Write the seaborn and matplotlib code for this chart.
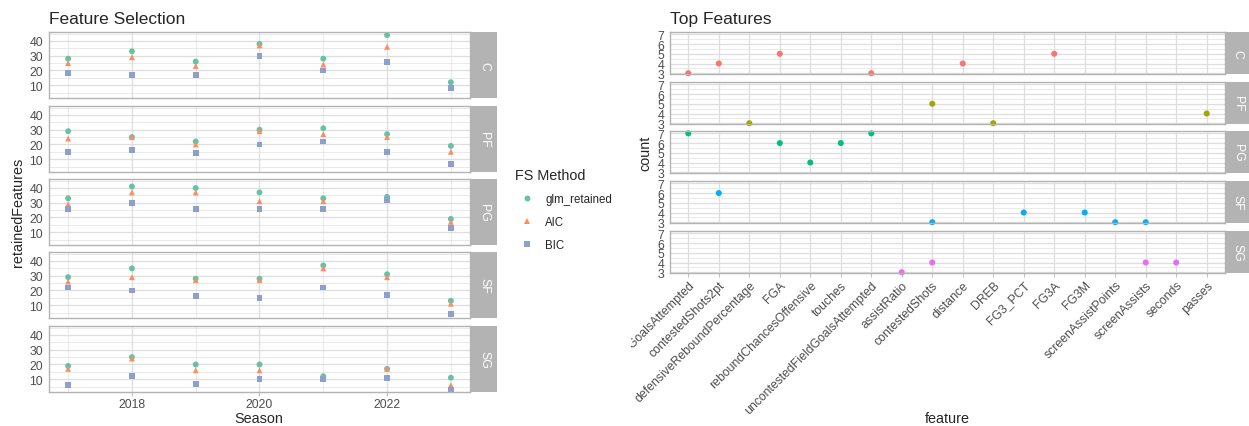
import matplotlib
matplotlib.use('Agg')

import seaborn as sns
import matplotlib.pyplot as plt
import pandas as pd
from matplotlib.transforms import Bbox, TransformedBbox

# ---- data ----
seasons = [2017, 2018, 2019, 2020, 2021, 2022, 2023]
positions = ['C', 'PF', 'PG', 'SF', 'SG']
methods = ['glm_retained', 'AIC', 'BIC']

glm_retained = {
    'C':  [28, 33, 26, 38, 28, 44, 12],
    'PF': [29, 25, 22, 30, 31, 27, 19],
    'PG': [33, 41, 40, 37, 33, 34, 19],
    'SF': [29, 35, 28, 28, 37, 31, 13],
    'SG': [19, 25, 20, 20, 12, 17, 11],
}
aic = {
    'C':  [25, 29, 23, 37, 24, 36, 8],
    'PF': [24, 25, 20, 29, 27, 25, 15],
    'PG': [29, 37, 37, 31, 31, 32, 17],
    'SF': [26, 29, 27, 27, 35, 29, 11],
    'SG': [17, 24, 16, 16, 11, 17, 6],
}
bic = {
    'C':  [18, 17, 17, 30, 20, 26, 8],
    'PF': [15, 16, 14, 20, 22, 15, 7],
    'PG': [26, 30, 26, 26, 26, 32, 13],
    'SF': [22, 20, 16, 15, 22, 17, 4],
    'SG': [6, 12, 7, 10, 10, 11, 3],
}

features = ['contestedFieldGoalsAttempted', 'contestedShots2pt', 'defensiveReboundPercentage',
            'FGA', 'reboundChancesOffensive', 'touches', 'uncontestedFieldGoalsAttempted',
            'assistRatio', 'contestedShots', 'distance', 'DREB', 'FG3_PCT', 'FG3A', 'FG3M',
            'screenAssistPoints', 'screenAssists', 'seconds', 'passes']
top_features = {
    'C':  ['contestedFieldGoalsAttempted', 'contestedShots2pt', 'FGA',
           'uncontestedFieldGoalsAttempted', 'distance', 'FG3A'],
    'PF': ['defensiveReboundPercentage', 'contestedShots', 'DREB', 'passes'],
    'PG': ['contestedFieldGoalsAttempted', 'FGA', 'reboundChancesOffensive', 'touches',
           'uncontestedFieldGoalsAttempted'],
    'SF': ['contestedShots2pt', 'contestedShots', 'FG3_PCT', 'FG3M',
           'screenAssistPoints', 'screenAssists'],
    'SG': ['assistRatio', 'contestedShots', 'screenAssists', 'seconds'],
}
top_counts = {
    'C':  [3, 4, 5, 3, 4, 5],
    'PF': [3, 5, 3, 4],
    'PG': [7, 6, 4, 6, 7],
    'SF': [6, 3, 4, 4, 3, 3],
    'SG': [3, 4, 4, 4],
}

# ---- long tables ----
rows = []
for m, src in zip(methods, [glm_retained, aic, bic]):
    for p in positions:
        for s, v in zip(seasons, src[p]):
            rows.append((p, s, m, v))
fs = pd.DataFrame(rows, columns=['position', 'Season', 'FS Method', 'retainedFeatures'])

rows = []
for p in positions:
    for f, c in zip(top_features[p], top_counts[p]):
        rows.append((p, f, c))
tf = pd.DataFrame(rows, columns=['position', 'feature', 'count'])
tf['xpos'] = tf['feature'].map(features.index)

# ---- style ----
sns.set_theme(style='white')
plt.rcParams['font.family'] = ['Liberation Sans', 'DejaVu Sans']

set2 = {'glm_retained': '#66C2A5', 'AIC': '#FC8D62', 'BIC': '#8DA0CB'}
shapes = {'glm_retained': 'o', 'AIC': '^', 'BIC': 's'}
hue5 = {'C': '#F8766D', 'PF': '#A3A500', 'PG': '#00BF7D', 'SF': '#00B0F6', 'SG': '#E76BF3'}

BORDER = '#B3B3B3'
GRID = '#DEDEDE'
TXT = '#4D4D4D'
TICK_FS = 8.8
TITLE_FS = 10.4

W, H = 1249, 427
fig = plt.figure(figsize=(W / 100, H / 100), dpi=100)


def px_axes(x0, y0, x1, y1):
    return fig.add_axes([x0 / W, 1 - y1 / H, (x1 - x0) / W, (y1 - y0) / H])


def style_panel(ax, bottom):
    ax.set_facecolor('white')
    for sp in ax.spines.values():
        sp.set_color(BORDER)
        sp.set_linewidth(1.0)
    ax.grid(which='major', color=GRID, linewidth=0.9)
    ax.grid(which='minor', color=GRID, linewidth=0.45)
    ax.set_axisbelow(True)
    ax.tick_params(which='major', color=BORDER, length=2.7, width=0.6,
                   labelsize=TICK_FS, labelcolor=TXT, pad=1.5)
    ax.tick_params(which='minor', length=0)
    ax.tick_params(axis='x', bottom=bottom, labelbottom=bottom)
    ax.set_xlabel('')
    ax.set_ylabel('')


def add_strip(x0, y0, x1, y1, label):
    sax = px_axes(x0, y0, x1, y1)
    sax.set_facecolor(BORDER)
    sax.set_xticks([])
    sax.set_yticks([])
    for sp in sax.spines.values():
        sp.set_visible(False)
    sax.text(0.5, 0.5, label, rotation=270, color='white', fontsize=TICK_FS,
             ha='center', va='center', transform=sax.transAxes)


# ---- left: Feature Selection ----
left_tops = [33, 107, 180, 253, 327]
handles = labels = None
for i, (p, top) in enumerate(zip(positions, left_tops)):
    ax = px_axes(49, top, 470, top + 66)
    sub = fs[fs['position'] == p]
    sns.scatterplot(data=sub, x='Season', y='retainedFeatures', hue='FS Method',
                    style='FS Method', hue_order=methods, style_order=methods,
                    palette=set2, markers=shapes, s=18, linewidth=0, ax=ax,
                    legend=(i == 0))
    if i == 0:
        handles, labels = ax.get_legend_handles_labels()
        ax.legend_.remove()
    ax.set_xlim(2016.7, 2023.3)
    ax.set_ylim(1.3, 46.1)
    ax.set_xticks([2018, 2020, 2022])
    ax.set_xticks([2017, 2019, 2021, 2023], minor=True)
    ax.set_yticks([10, 20, 30, 40])
    ax.set_yticks([5, 15, 25, 35, 45], minor=True)
    style_panel(ax, bottom=(i == len(positions) - 1))
    add_strip(471, top, 497, top + 66, p)

fig.text(49 / W, 1 - 24 / H, 'Feature Selection', fontsize=12.5, va='baseline', ha='left')
fig.text(18 / W, 1 - 212 / H, 'retainedFeatures', fontsize=TITLE_FS, rotation=90,
         ha='center', va='center')
fig.text(259 / W, 1 - 419 / H, 'Season', fontsize=TITLE_FS, ha='center', va='center')

leg = fig.legend(handles, labels, title='FS Method', loc='upper left',
                 bbox_to_anchor=(505 / W, 1 - 159 / H), frameon=False,
                 fontsize=8.3, title_fontsize=TITLE_FS, alignment='left',
                 handletextpad=0.6, labelspacing=0.95, markerscale=1.0)

# ---- right: Top Features ----
right_tops = [33, 83, 132, 182, 232]
for i, (p, top) in enumerate(zip(positions, right_tops)):
    ax = px_axes(670, top, 1225, top + 42)
    sub = tf[tf['position'] == p]
    sns.scatterplot(data=sub, x='xpos', y='count', hue='position', palette=hue5,
                    s=19, linewidth=0, ax=ax, legend=False, clip_on=False)
    ax.set_xlim(-0.6, len(features) - 0.4)
    ax.set_ylim(2.92, 7.24)
    ax.set_xticks(range(len(features)))
    ax.set_yticks([3, 4, 5, 6, 7])
    ax.set_yticks([3.5, 4.5, 5.5, 6.5], minor=True)
    style_panel(ax, bottom=(i == len(positions) - 1))
    if i == len(positions) - 1:
        ax.set_xticklabels(features, rotation=45, ha='right', va='top',
                           rotation_mode='anchor')
        clip = TransformedBbox(Bbox([[631 / W, 0], [1, 1]]), fig.transFigure)
        for t in ax.get_xticklabels():
            t.set_clip_on(True)
            t.set_clip_box(clip)
    add_strip(1226, top, 1249, top + 42, p)

fig.text(670 / W, 1 - 24 / H, 'Top Features', fontsize=12.5, va='baseline', ha='left')
fig.text(645 / W, 1 - 153 / H, 'count', fontsize=TITLE_FS, rotation=90,
         ha='center', va='center')
fig.text(947 / W, 1 - 419 / H, 'feature', fontsize=TITLE_FS, ha='center', va='center')

fig.savefig('out.png', dpi=100, facecolor='white')
